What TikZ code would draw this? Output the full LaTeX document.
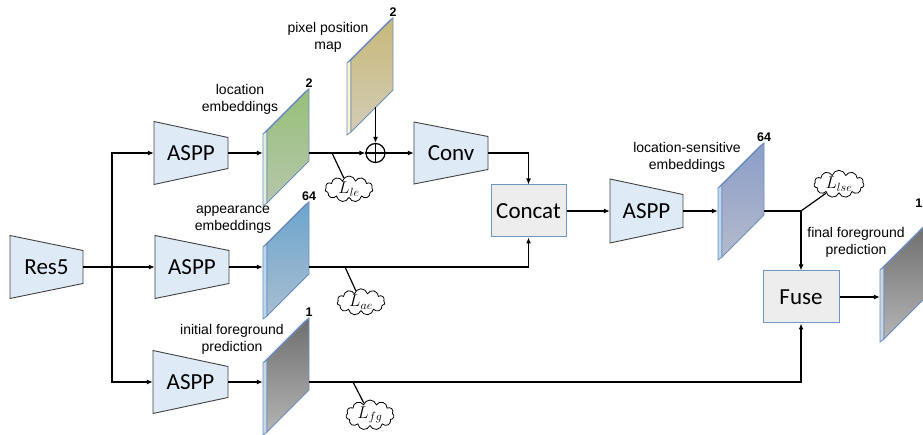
\RequirePackage{fix-cm}
\documentclass[tikz,border=0pt]{standalone}
\usepackage{fontspec}
\setmainfont{Liberation Sans}
\newfontfamily\bigf{Carlito}
\usetikzlibrary{arrows.meta,shapes.symbols,calc}

\definecolor{trapfill}{HTML}{DEEBF7}
\definecolor{boxfill}{HTML}{EDEDED}
\definecolor{boxedge}{HTML}{7096C4}
\definecolor{mapedge}{HTML}{6D8EBC}
\definecolor{gtop}{HTML}{96C078}\definecolor{gbot}{HTML}{B6C6AC}\definecolor{gstr}{HTML}{E2F0D9}
\definecolor{atop}{HTML}{6CA5CE}\definecolor{abot}{HTML}{A8BDD0}\definecolor{astr}{HTML}{BDD7EE}
\definecolor{ytop}{HTML}{C8B878}\definecolor{ybot}{HTML}{D2CCB6}\definecolor{ystr}{HTML}{FFF2CC}
\definecolor{ltop}{HTML}{8B9DC8}\definecolor{lbot}{HTML}{B4BACB}\definecolor{lstr}{HTML}{BDD7EE}
\definecolor{ktop}{HTML}{6E6E6E}\definecolor{kbot}{HTML}{B4B4B4}\definecolor{kstr}{HTML}{CAD6E2}

\tikzset{
 conn/.style={line width=1.2pt, draw=black},
 arr/.style={conn, -{Latex[length=6pt,width=5pt]}},
 trapshape/.style={draw=black!75, fill=trapfill, line width=0.9pt},
 bigtext/.style={font=\bigf\fontsize{23}{26}\selectfont},
 lbl/.style={font=\fontsize{14}{17}\selectfont, align=center, inner sep=0},
 num/.style={font=\bfseries\fontsize{12.5}{14}\selectfont, inner sep=1.5pt},
 boxnode/.style={draw=boxedge, fill=boxfill, line width=1pt, minimum width=75, minimum height=52, bigtext},
 lossc/.style={cloud, cloud puffs=11, cloud ignores aspect, draw=black, fill=white, line width=0.8pt, minimum width=48, minimum height=26, inner sep=0, font=\fontsize{17}{18}\selectfont},
 mapline/.style={draw=mapedge, line width=0.8pt},
}

% #1 name, #2 left x, #3 right x, #4 centre y, #5 left half height, #6 right half height, #7 text
\newcommand\trapz[7]{%
 \filldraw[trapshape] (#2,#4-#5) -- (#3,#4-#6) -- (#3,#4+#6) -- (#2,#4+#5) -- cycle;
 \node[bigtext, inner sep=0, minimum width=#3-#2, minimum height=2*#6] (#1) at ({(#2+#3)/2},#4) {#7};
}
% #1 name, #2 face left x, #3 top-left y, #4 connector y, #5 top colour, #6 bottom colour, #7 strip colour
\newcommand\fmap[7]{%
 \filldraw[fill=#7, mapline] (#2,#3) -- (#2+42,#3-42) -- (#2+38,#3-39) -- (#2-4,#3+3) -- cycle;
 \filldraw[fill=#7, mapline] (#2,#3) -- (#2,#3+72) -- (#2-4,#3+75) -- (#2-4,#3+3) -- cycle;
 \shade[top color=#5, bottom color=#6, mapline] (#2,#3) -- (#2+42,#3-42) -- (#2+42,#3+30) -- (#2,#3+72) -- cycle;
 \node[inner sep=0, minimum width=46, minimum height=2] (#1) at (#2+19,#4) {};
}

\begin{document}
\begin{tikzpicture}[x=1pt, y=-1pt]
\useasboundingbox (0,0) rectangle (923,435);
\clip (0,0) rectangle (923,435);

% trapezoids
\trapz{res}{10}{83}{267}{31.5}{16.5}{Res5}
\trapz{a1}{154}{228}{153}{31.5}{15.5}{ASPP}
\trapz{a2}{155}{229}{267}{31.5}{16.5}{ASPP}
\trapz{a3}{153}{228}{382}{31.5}{15.5}{ASPP}
\trapz{conv}{414}{488}{153}{31}{16.5}{Conv}
\trapz{a4}{610}{683}{211}{32}{16.5}{ASPP}

% boxes
\node[boxnode] (concat) at (528.5,211) {Concat};
\node[boxnode, minimum width=76] (fuse) at (801,297) {Fuse};

% feature maps
\fmap{le}{267}{131}{153}{gtop}{gbot}{gstr}
\fmap{ae}{267}{244}{267}{atop}{abot}{astr}
\fmap{fg}{267}{360}{382}{ktop}{kbot}{kstr}
\fmap{pp}{351}{60}{95}{ytop}{ybot}{ystr}
\fmap{lse}{722}{185}{211}{ltop}{lbot}{lstr}
\fmap{ff}{884}{267}{297}{ktop}{kbot}{kstr}

% channel numbers
\node[num, anchor=south] (len) at (309,89) {2};
\node[num, anchor=south] (aen) at (309,202) {64};
\node[num, anchor=south] (fgn) at (309,318) {1};
\node[num, anchor=south] (ppn) at (393,18) {2};
\node[num, anchor=south] (lsen) at (764,143) {64};
\node[num, anchor=south east, inner sep=0.5pt] (ffn) at (923,208) {1};

% labels
\node[lbl] (t1) at (240,99) {location\\embeddings};
\node[lbl] (t2) at (233,220) {appearance\\embeddings};
\node[lbl] (t3) at (232,339) {initial foreground\\prediction};
\node[lbl] (t4) at (328,37) {pixel position\\map};
\node[lbl] (t5) at (687,157) {location-sensitive\\embeddings};
\node[lbl] (t6) at (856,242) {final foreground\\prediction};

% plus
\node[circle, draw, line width=1.2pt, minimum size=19, inner sep=0] (plus) at (375.5,153) {};
\draw[line width=1.2pt] (plus.north) -- (plus.south);
\draw[line width=1.2pt] (plus.west) -- (plus.east);

% res5 branches
\coordinate (split) at (112,267);
\draw[conn] (res.east) -- (split);
\draw[arr] (split) |- (a1.west);
\draw[arr] (split) -- (a2.west);
\draw[arr] (split) |- (a3.west);

\draw[arr] (a1.east) -- (le.west);
\draw[arr] (a2.east) -- (ae.west);
\draw[arr] (a3.east) -- (fg.west);

\draw[arr] (le.east) -- (plus.west);
\coordinate (ppbot) at (375.5,107);
\draw[arr] (ppbot) -- (plus.north);
\draw[arr] (plus.east) -- (conv.west);
\draw[arr] (conv.east) -| (concat.north);
\draw[arr] (ae.east) -| (concat.south);
\draw[arr] (concat.east) -- (a4.west);
\draw[arr] (a4.east) -- (lse.west);
\draw[arr] (lse.east) -| (fuse.north);
\draw[arr] (fg.east) -| (fuse.south);
\draw[arr] (fuse.east) -- (ff.west);

% losses
\node[lossc] (Lle) at (349,189) {$L_{le}$};
\node[lossc] (Lae) at (361,302) {$L_{ae}$};
\node[lossc] (Lfg) at (370,415) {$L_{fg}$};
\node[lossc, minimum width=50] (Llse) at (839,184) {$L_{lse}$};
\coordinate (jle) at (332,153);
\coordinate (jae) at (345,267);
\coordinate (jfg) at (353,382);
\coordinate (jlse) at (801,211);
\draw[conn] (jle) -- (Lle);
\draw[conn] (jae) -- (Lae);
\draw[conn] (jfg) -- (Lfg);
\draw[conn] (jlse) -- (Llse);
\end{tikzpicture}
\end{document}
